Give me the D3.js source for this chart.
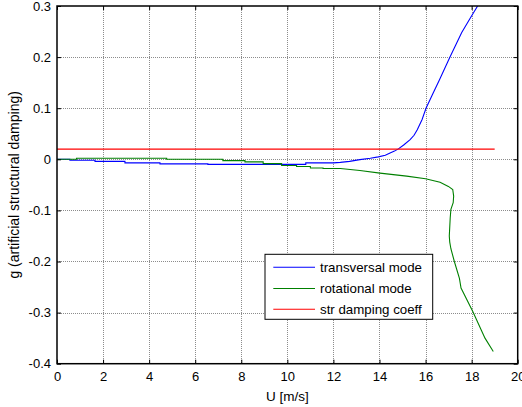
<!DOCTYPE html>
<html>
<head>
<meta charset="utf-8">
<script src="https://cdn.jsdelivr.net/npm/d3@7/dist/d3.min.js"></script>
<style>
  html, body { margin: 0; padding: 0; background: #fff; }
  svg text { font-family: "Liberation Sans", Arial, sans-serif; fill: #000; }
</style>
</head>
<body>
<div id="chart"></div>
<script>
// ---------- data ----------
const xTicks = [0, 2, 4, 6, 8, 10, 12, 14, 16, 18, 20];
const yTicks = [-0.4, -0.3, -0.2, -0.1, 0, 0.1, 0.2, 0.3];
const yTickLabels = ["-0.4", "-0.3", "-0.2", "-0.1", "0", "0.1", "0.2", "0.3"];

const seriesNames = ["transversal mode", "rotational mode", "str damping coeff"];
const seriesColors = ["#0000ff", "#008000", "#ff0000"];

const transU = [0, 0.56, 0.56, 1.65, 1.65, 2.95, 2.95, 4.47, 4.47, 6.55, 6.55, 10.8, 10.8, 12.0, 12.3, 12.7, 13.15, 13.6, 13.95, 14.25, 14.46, 14.65, 14.82, 15.05, 15.33, 15.5, 15.64, 15.85, 16.02, 16.3, 16.6, 17.06, 17.57, 17.95, 18.26];
const transG = [0, 0, -0.002, -0.002, -0.004, -0.004, -0.007, -0.007, -0.009, -0.009, -0.010, -0.010, -0.007, -0.007, -0.006, -0.004, -0.0006, 0.002, 0.0047, 0.008, 0.0125, 0.016, 0.0204, 0.028, 0.0386, 0.047, 0.058, 0.078, 0.1, 0.127, 0.155, 0.2, 0.248, 0.277, 0.3];

const rotU = [0, 0.85, 0.85, 4.76, 4.76, 7.2, 7.2, 8.16, 8.16, 8.95, 8.95, 9.75, 9.75, 10.4, 10.4, 11.0, 11.0, 11.55, 11.55, 12.3, 13.15, 14.02, 15.18, 16.0, 16.63, 16.99, 17.18, 17.22, 17.2, 17.1, 17.07, 17.03, 17.05, 17.1, 17.25, 17.47, 17.54, 18.05, 18.58, 18.94];
const rotG = [0, 0, 0.002, 0.002, 0, 0, -0.0025, -0.0025, -0.005, -0.005, -0.0085, -0.0085, -0.012, -0.012, -0.014, -0.014, -0.017, -0.017, -0.018, -0.018, -0.022, -0.027, -0.033, -0.038, -0.045, -0.053, -0.059, -0.072, -0.085, -0.098, -0.115, -0.15, -0.162, -0.175, -0.2, -0.233, -0.252, -0.298, -0.35, -0.376];

const strU = [0, 19];
const strG = [0.02, 0.02];

const xLabel = "U [m/s]";
const yLabel = "g (artificial structural damping)";

// ---------- layout ----------
const W = 522, H = 407;
const plot = { left: 57, top: 6, right: 517.7, bottom: 363.7 };

const svg = d3.select("#chart").append("svg")
  .attr("width", W).attr("height", H);

const x = d3.scaleLinear().domain([0, 20]).range([plot.left, plot.right]);
const y = d3.scaleLinear().domain([-0.4, 0.3]).range([plot.bottom, plot.top]);

svg.append("defs").append("clipPath").attr("id", "clip")
  .append("rect").attr("x", plot.left).attr("y", plot.top)
  .attr("width", plot.right - plot.left).attr("height", plot.bottom - plot.top);

// grid
const grid = svg.append("g").attr("stroke", "#8c8c8c").attr("stroke-width", 1)
  .attr("stroke-dasharray", "1,1");
grid.selectAll(".gx").data(xTicks.slice(1, -1)).enter().append("line")
  .attr("x1", d => Math.round(x(d)) + 0.5).attr("x2", d => Math.round(x(d)) + 0.5)
  .attr("y1", plot.top).attr("y2", plot.bottom);
grid.selectAll(".gy").data(yTicks.slice(1, -1)).enter().append("line")
  .attr("y1", d => Math.round(y(d)) + 0.5).attr("y2", d => Math.round(y(d)) + 0.5)
  .attr("x1", plot.left).attr("x2", plot.right);

// series
const line = d3.line().x(d => x(d[0])).y(d => y(d[1]));
const seriesData = [
  d3.zip(transU, transG),
  d3.zip(rotU, rotG),
  d3.zip(strU, strG)
];
const lines = svg.append("g").attr("clip-path", "url(#clip)");
seriesData.forEach((data, i) => {
  lines.append("path").datum(data)
    .attr("fill", "none").attr("stroke", seriesColors[i]).attr("stroke-width", 1.1)
    .attr("d", line);
});

// axes (MATLAB style: ticks inside, box)
const tickLen = 4;
const axisG = svg.append("g");
const xAxisB = d3.axisBottom(x).tickValues(xTicks).tickSizeInner(-tickLen).tickSizeOuter(0).tickPadding(8);
const xAxisT = d3.axisTop(x).tickValues(xTicks).tickSizeInner(-tickLen).tickSizeOuter(0).tickFormat("");
const yAxisL = d3.axisLeft(y).tickValues(yTicks).tickSizeInner(-tickLen).tickSizeOuter(0).tickPadding(6)
  .tickFormat((d, i) => yTickLabels[i]);
const yAxisR = d3.axisRight(y).tickValues(yTicks).tickSizeInner(-tickLen).tickSizeOuter(0).tickFormat("");

function styleAxis(g) {
  g.select(".domain").remove();
  g.selectAll("line").attr("stroke", "#000");
  g.selectAll("text").attr("font-size", "13px").attr("fill", "#000")
    .attr("font-family", "'Liberation Sans', Arial, sans-serif");
}
axisG.append("g").attr("transform", `translate(0,${plot.bottom})`).call(xAxisB).call(styleAxis);
axisG.append("g").attr("transform", `translate(0,${plot.top})`).call(xAxisT).call(styleAxis);
axisG.append("g").attr("transform", `translate(${plot.left},0)`).call(yAxisL).call(styleAxis);
axisG.append("g").attr("transform", `translate(${plot.right},0)`).call(yAxisR).call(styleAxis);

// box
svg.append("rect").attr("x", plot.left).attr("y", plot.top)
  .attr("width", plot.right - plot.left).attr("height", plot.bottom - plot.top)
  .attr("fill", "none").attr("stroke", "#000").attr("stroke-width", 1.5);

// labels
svg.append("text").attr("x", (plot.left + plot.right) / 2).attr("y", 401)
  .attr("text-anchor", "middle").attr("font-size", "13.5px").text(xLabel);
svg.append("text")
  .attr("transform", `translate(19,${(plot.top + plot.bottom) / 2}) rotate(-90)`)
  .attr("text-anchor", "middle").attr("font-size", "14px").text(yLabel);

// legend
const lg = { x: 265, y: 254.3, w: 167.7, h: 65 };
const legend = svg.append("g");
legend.append("rect").attr("x", lg.x).attr("y", lg.y).attr("width", lg.w).attr("height", lg.h)
  .attr("fill", "#fff").attr("stroke", "#000").attr("stroke-width", 1);
const rowY = [267.3, 288.5, 309.3];
seriesNames.forEach((name, i) => {
  legend.append("line").attr("x1", 273.3).attr("x2", 315)
    .attr("y1", rowY[i]).attr("y2", rowY[i])
    .attr("stroke", seriesColors[i]).attr("stroke-width", 1.1);
  legend.append("text").attr("x", 320).attr("y", rowY[i]).attr("dy", "0.35em")
    .attr("font-size", "13.3px").text(name);
});
</script>
</body>
</html>
